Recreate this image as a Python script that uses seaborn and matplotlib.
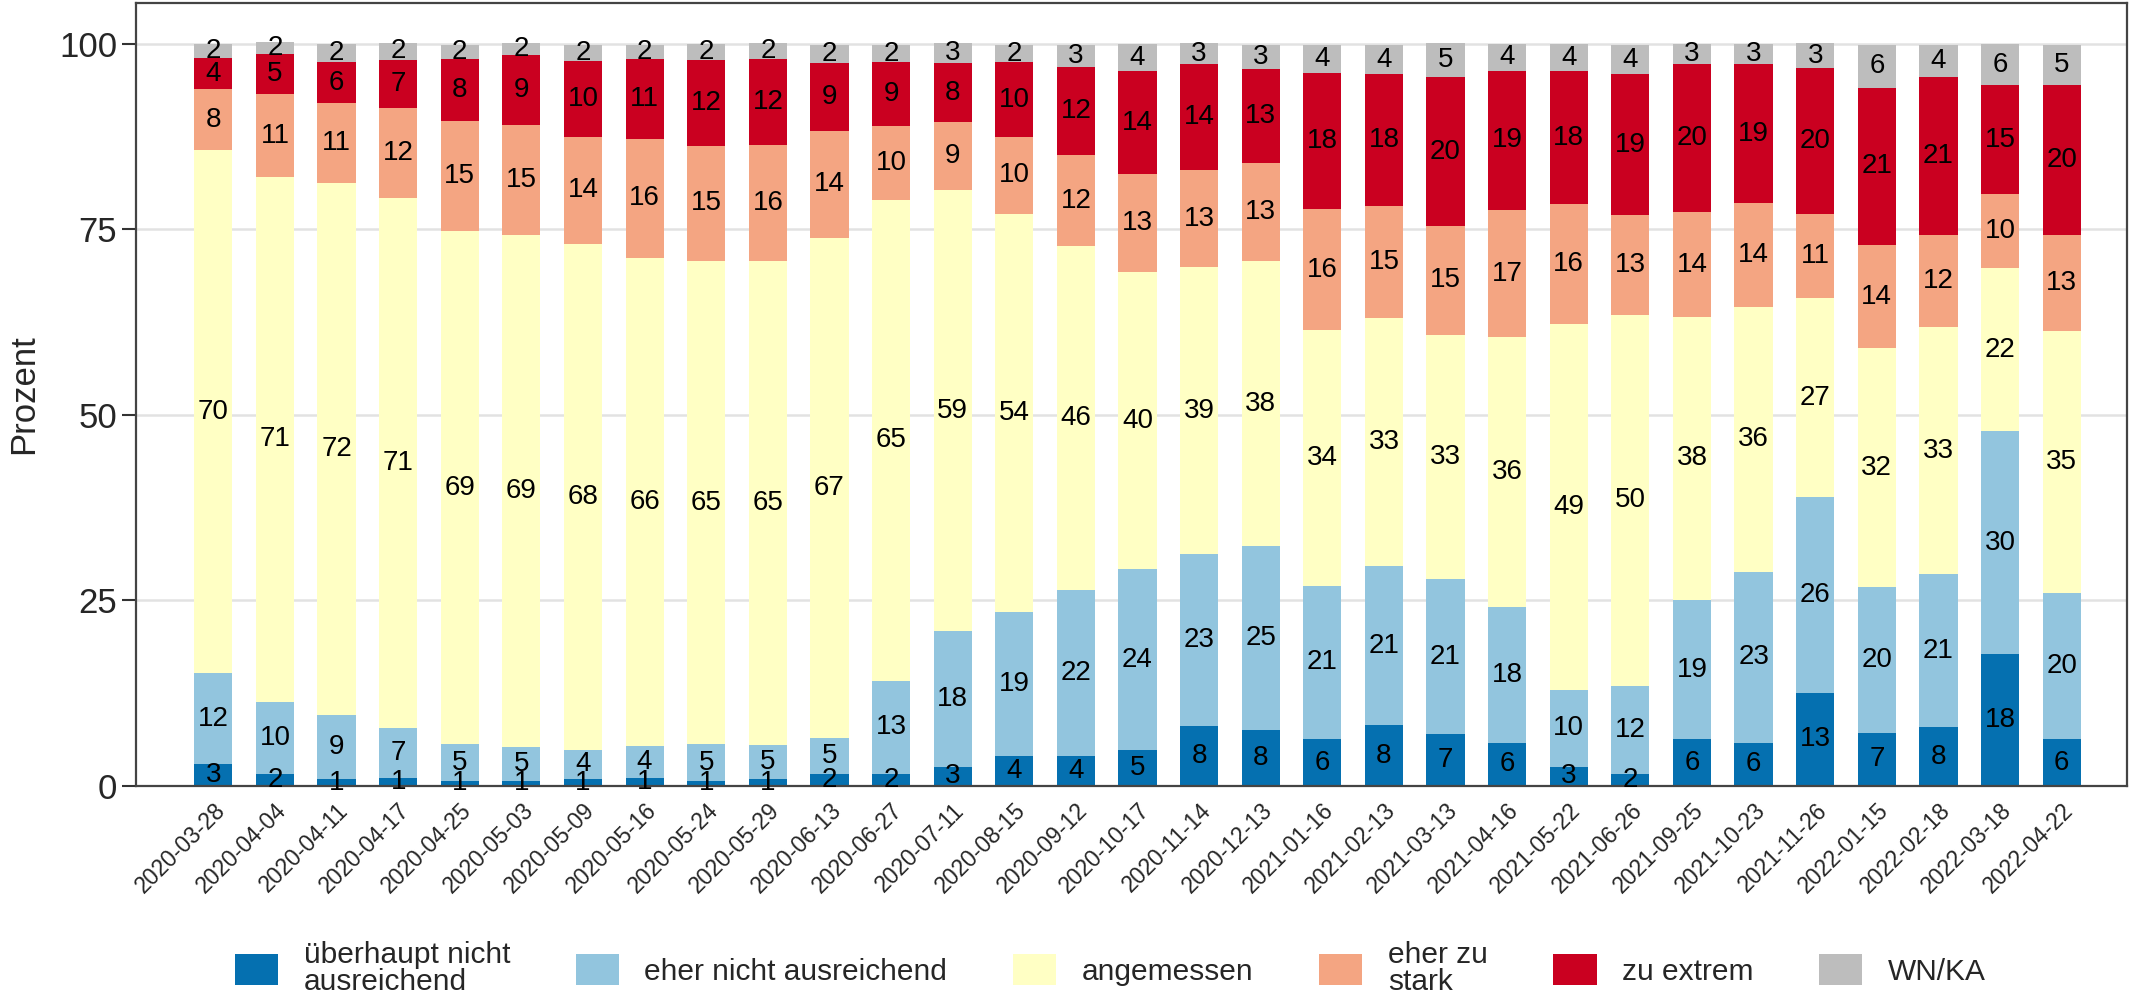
import numpy as np
import pandas as pd
import seaborn as sns
import matplotlib
matplotlib.use("Agg")
import matplotlib.pyplot as plt
from matplotlib.patches import Patch

# survey waves
dates = ["2020-03-28", "2020-04-04", "2020-04-11", "2020-04-17", "2020-04-25",
         "2020-05-03", "2020-05-09", "2020-05-16", "2020-05-24", "2020-05-29",
         "2020-06-13", "2020-06-27", "2020-07-11", "2020-08-15", "2020-09-12",
         "2020-10-17", "2020-11-14", "2020-12-13", "2021-01-16", "2021-02-13",
         "2021-03-13", "2021-04-16", "2021-05-22", "2021-06-26", "2021-09-25",
         "2021-10-23", "2021-11-26", "2022-01-15", "2022-02-18", "2022-03-18",
         "2022-04-22"]

# percentages per answer (bottom to top)
ueberhaupt_nicht = [2.9, 1.6, 0.9, 1.1, 0.7, 0.7, 0.9, 1.1, 0.7, 0.9,
                    1.6, 1.6, 2.6, 4.1, 4.1, 4.8, 8.1, 7.6, 6.3, 8.2,
                    7.0, 5.8, 2.6, 1.6, 6.3, 5.8, 12.6, 7.2, 7.9, 17.8,
                    6.3]
eher_nicht = [12.3, 9.7, 8.7, 6.7, 4.9, 4.6, 4.0, 4.3, 4.9, 4.6,
              4.9, 12.6, 18.3, 19.4, 22.3, 24.4, 23.2, 24.7, 20.7, 21.4,
              20.9, 18.3, 10.3, 11.9, 18.8, 23.1, 26.4, 19.6, 20.7, 30.0,
              19.7]
angemessen = [70.49, 70.8, 71.7, 71.4, 69.2, 69.0, 68.2, 65.8, 65.2, 65.3,
              67.4, 64.8, 59.4, 53.6, 46.4, 40.1, 38.6, 38.4, 34.4, 33.4,
              32.9, 36.4, 49.4, 50.0, 38.1, 35.7, 26.7, 32.2, 33.2, 22.0,
              35.3]
eher_zu_stark = [8.2, 11.1, 10.7, 12.1, 14.8, 14.8, 14.4, 16.0, 15.4, 15.6,
                 14.4, 9.9, 9.2, 10.4, 12.2, 13.2, 13.1, 13.2, 16.3, 15.1,
                 14.7, 17.1, 16.1, 13.4, 14.1, 13.9, 11.4, 13.9, 12.4, 10.0,
                 13.0]
zu_extrem = [4.2, 5.4, 5.6, 6.6, 8.4, 9.4, 10.2, 10.8, 11.7, 11.6,
             9.1, 8.6, 7.9, 10.0, 11.9, 13.8, 14.3, 12.7, 18.4, 17.8,
             20.0, 18.8, 17.9, 19.0, 20.0, 18.8, 19.6, 21.2, 21.4, 14.6,
             20.2]
wn_ka = [1.9, 1.6, 2.4, 2.2, 1.9, 1.6, 2.2, 1.9, 2.1, 2.1,
         2.4, 2.4, 2.7, 2.4, 3.0, 3.7, 2.8, 3.2, 3.7, 3.9,
         4.6, 3.6, 3.7, 4.0, 2.7, 2.7, 3.4, 5.8, 4.2, 5.6,
         5.4]

categories = ["überhaupt nicht\nausreichend", "eher nicht ausreichend",
              "angemessen", "eher zu\nstark", "zu extrem", "WN/KA"]
colors = ["#0570b0", "#92c5de", "#ffffc4", "#f4a582", "#ca0020", "#bdbdbd"]

series = [ueberhaupt_nicht, eher_nicht, angemessen, eher_zu_stark, zu_extrem, wn_ka]

sns.set_style("white")
plt.rcParams["font.family"] = ["Liberation Sans", "DejaVu Sans"]

fig = plt.figure(figsize=(21.31, 10.05), dpi=100)
ax = fig.add_axes([0.0638, 0.2179, 0.9343, 0.779])

bottom = np.zeros(len(dates))
for vals, col in zip(series, colors):
    sns.barplot(x=dates, y=vals, bottom=bottom, color=col, width=0.62,
                errorbar=None, saturation=1, linewidth=0, zorder=2, ax=ax)
    bar_cont = ax.containers[-1]
    ax.bar_label(bar_cont, fmt="%.0f", label_type="center", fontsize=20, color="black")
    bottom = bottom + np.array(vals)

ax.set_xlim(-1.256, 31.06)
ax.set_ylim(0, 105.5)
ax.set_yticks([0, 25, 50, 75, 100])
ax.yaxis.grid(True, color="#e2e2e2", linewidth=1.8, zorder=0)
ax.set_axisbelow(True)

ax.tick_params(axis="y", labelsize=25, length=10, width=1.5, color="#333333", direction="out", left=True)
ax.tick_params(axis="x", length=0, pad=9)
plt.setp(ax.get_xticklabels(), rotation=45, ha="right", rotation_mode="anchor", fontsize=16.5)

ax.set_xlabel("")
ax.set_ylabel("Prozent", fontsize=25, labelpad=14)

for sp in ax.spines.values():
    sp.set_color("#444444")
    sp.set_linewidth(1.6)

handles = [Patch(facecolor=c, edgecolor="none") for c in colors]
leg = fig.legend(handles, categories, loc="center", bbox_to_anchor=(0.521, 0.036),
                 ncol=6, frameon=False, fontsize=21.5, handlelength=1.45,
                 handleheight=1.2, handletextpad=0.85, columnspacing=2.2)
for t in leg.get_texts():
    t.set_linespacing(0.95)

fig.savefig("out.png", dpi=100)
